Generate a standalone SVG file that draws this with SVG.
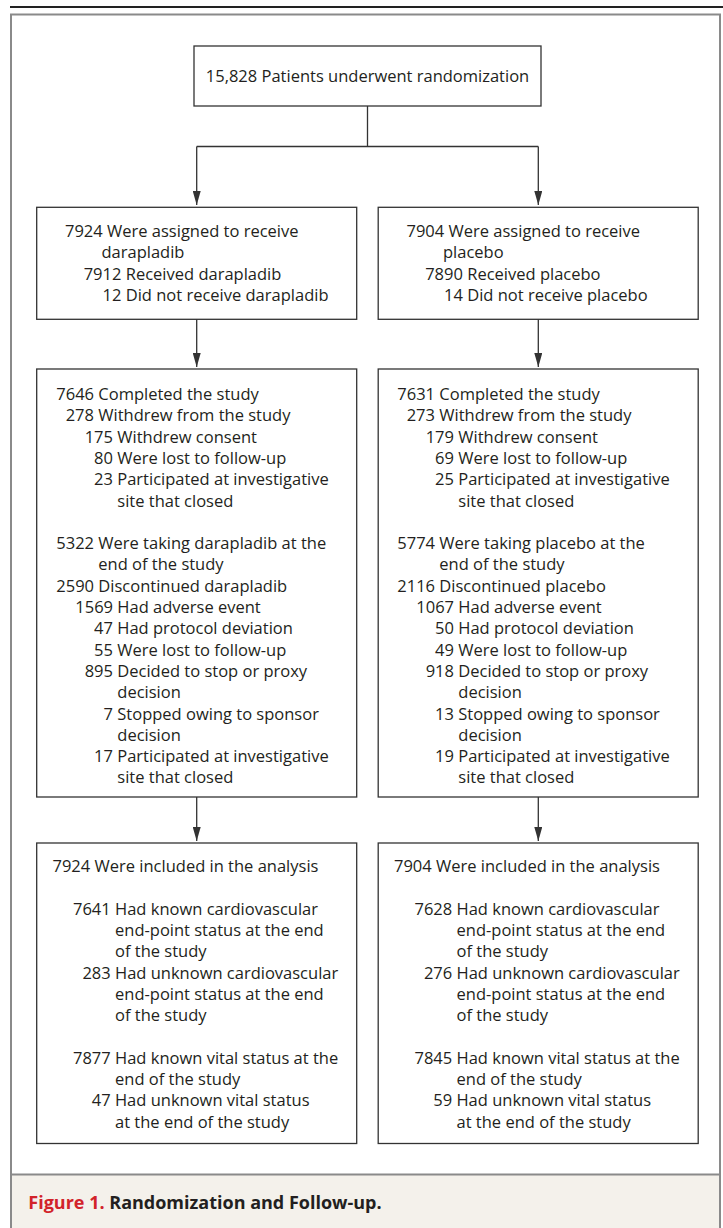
<svg xmlns="http://www.w3.org/2000/svg" width="723" height="1228" viewBox="0 0 723 1228">
<style>
.t{font-family:"Open Sans","Noto Sans","Liberation Sans",sans-serif;font-size:16.5px;fill:#231f20}
.box{fill:#ffffff;stroke:#333333;stroke-width:1.3}
.con{fill:none;stroke:#333333;stroke-width:1.3}
.cap{font-family:"Open Sans","Noto Sans","Liberation Sans",sans-serif;font-size:18px;font-weight:bold;fill:#231f20}
</style>
<defs>
<marker id="ah" viewBox="0 0 14 8" refX="14" refY="4" markerWidth="14" markerHeight="8" markerUnits="userSpaceOnUse" orient="auto">
<path d="M0,0 L14,4 L0,8 z" fill="#333333"/>
</marker>
</defs>
<rect x="0" y="0" width="723" height="1228" fill="#ffffff"/>
<line x1="10" y1="7" x2="723" y2="7" stroke="#222222" stroke-width="2"/>
<g id="frame">
<rect x="11" y="14.5" width="709" height="1240" fill="#ffffff" stroke="#8a8a8a" stroke-width="2"/>
<rect x="11" y="1174.5" width="709" height="80" fill="#f4f1eb" stroke="#8a8a8a" stroke-width="2"/>
</g>
<g id="connectors">
<path class="con" d="M367.5,106 V146.5 M196.7,146.5 H538.3"/>
<path class="con" d="M196.7,146.5 V205" marker-end="url(#ah)"/>
<path class="con" d="M538.3,146.5 V205" marker-end="url(#ah)"/>
<path class="con" d="M196.7,319.3 V367" marker-end="url(#ah)"/>
<path class="con" d="M538.3,319.3 V367" marker-end="url(#ah)"/>
<path class="con" d="M196.7,797 V841" marker-end="url(#ah)"/>
<path class="con" d="M538.3,797 V841" marker-end="url(#ah)"/>
</g>
<g id="randomized">
<rect class="box" x="194" y="46" width="347" height="60"/>
<text class="t" x="367.5" y="82" text-anchor="middle">15,828 Patients underwent randomization</text>
</g>
<g id="assigned-darapladib">
<rect class="box" x="36.7" y="207.3" width="320" height="112"/>
<text class="t" x="65" y="237.2">7924 Were assigned to receive</text>
<text class="t" x="101.5" y="258.4">darapladib</text>
<text class="t" x="83.7" y="279.6">7912 Received darapladib</text>
<text class="t" x="102.5" y="300.8">12 Did not receive darapladib</text>
</g>
<g id="assigned-placebo">
<rect class="box" x="378.2" y="207.3" width="320" height="112"/>
<text class="t" x="406.5" y="237.2">7904 Were assigned to receive</text>
<text class="t" x="443" y="258.4">placebo</text>
<text class="t" x="425.2" y="279.6">7890 Received placebo</text>
<text class="t" x="444" y="300.8">14 Did not receive placebo</text>
</g>
<g id="followup-darapladib">
<rect class="box" x="36.7" y="369" width="320" height="428"/>
<text class="t" x="56.3" y="400">7646 Completed the study</text>
<text class="t" x="65.7" y="421.3">278 Withdrew from the study</text>
<text class="t" x="84.7" y="442.6">175 Withdrew consent</text>
<text class="t" x="94.1" y="463.9">80 Were lost to follow-up</text>
<text class="t" x="94.1" y="485.2">23 Participated at investigative</text>
<text class="t" x="117.3" y="506.5">site that closed</text>
<text class="t" x="56.3" y="549.1">5322 Were taking darapladib at the</text>
<text class="t" x="98.3" y="570.4">end of the study</text>
<text class="t" x="56.3" y="591.7">2590 Discontinued darapladib</text>
<text class="t" x="75.3" y="613">1569 Had adverse event</text>
<text class="t" x="94.1" y="634.3">47 Had protocol deviation</text>
<text class="t" x="94.1" y="655.6">55 Were lost to follow-up</text>
<text class="t" x="84.7" y="676.9">895 Decided to stop or proxy</text>
<text class="t" x="117.3" y="698.2">decision</text>
<text class="t" x="103.6" y="719.5">7 Stopped owing to sponsor</text>
<text class="t" x="117.3" y="740.8">decision</text>
<text class="t" x="94.1" y="762.1">17 Participated at investigative</text>
<text class="t" x="117.3" y="783.4">site that closed</text>
</g>
<g id="followup-placebo">
<rect class="box" x="378.2" y="369" width="320" height="428"/>
<text class="t" x="397.3" y="400">7631 Completed the study</text>
<text class="t" x="406.7" y="421.3">273 Withdrew from the study</text>
<text class="t" x="425.7" y="442.6">179 Withdrew consent</text>
<text class="t" x="435.1" y="463.9">69 Were lost to follow-up</text>
<text class="t" x="435.1" y="485.2">25 Participated at investigative</text>
<text class="t" x="458.3" y="506.5">site that closed</text>
<text class="t" x="397.3" y="549.1">5774 Were taking placebo at the</text>
<text class="t" x="439.3" y="570.4">end of the study</text>
<text class="t" x="397.3" y="591.7">2116 Discontinued placebo</text>
<text class="t" x="416.3" y="613">1067 Had adverse event</text>
<text class="t" x="435.1" y="634.3">50 Had protocol deviation</text>
<text class="t" x="435.1" y="655.6">49 Were lost to follow-up</text>
<text class="t" x="425.7" y="676.9">918 Decided to stop or proxy</text>
<text class="t" x="458.3" y="698.2">decision</text>
<text class="t" x="435.1" y="719.5">13 Stopped owing to sponsor</text>
<text class="t" x="458.3" y="740.8">decision</text>
<text class="t" x="435.1" y="762.1">19 Participated at investigative</text>
<text class="t" x="458.3" y="783.4">site that closed</text>
</g>
<g id="analysis-darapladib">
<rect class="box" x="36.7" y="843" width="320" height="300.5"/>
<text class="t" x="52.5" y="872">7924 Were included in the analysis</text>
<text class="t" x="73" y="914.6">7641 Had known cardiovascular</text>
<text class="t" x="115" y="935.9">end-point status at the end</text>
<text class="t" x="115" y="957.2">of the study</text>
<text class="t" x="82.4" y="978.5">283 Had unknown cardiovascular</text>
<text class="t" x="115" y="999.8">end-point status at the end</text>
<text class="t" x="115" y="1021.1">of the study</text>
<text class="t" x="73" y="1063.7">7877 Had known vital status at the</text>
<text class="t" x="115" y="1085">end of the study</text>
<text class="t" x="91.8" y="1106.3">47 Had unknown vital status</text>
<text class="t" x="115" y="1127.6">at the end of the study</text>
</g>
<g id="analysis-placebo">
<rect class="box" x="378.2" y="843" width="320" height="300.5"/>
<text class="t" x="394" y="872">7904 Were included in the analysis</text>
<text class="t" x="414.5" y="914.6">7628 Had known cardiovascular</text>
<text class="t" x="456.5" y="935.9">end-point status at the end</text>
<text class="t" x="456.5" y="957.2">of the study</text>
<text class="t" x="423.9" y="978.5">276 Had unknown cardiovascular</text>
<text class="t" x="456.5" y="999.8">end-point status at the end</text>
<text class="t" x="456.5" y="1021.1">of the study</text>
<text class="t" x="414.5" y="1063.7">7845 Had known vital status at the</text>
<text class="t" x="456.5" y="1085">end of the study</text>
<text class="t" x="433.3" y="1106.3">59 Had unknown vital status</text>
<text class="t" x="456.5" y="1127.6">at the end of the study</text>
</g>
<g id="caption">
<text class="cap" x="28.3" y="1208.5"><tspan fill="#d2232a">Figure 1.</tspan> Randomization and Follow-up.</text>
</g>
</svg>
